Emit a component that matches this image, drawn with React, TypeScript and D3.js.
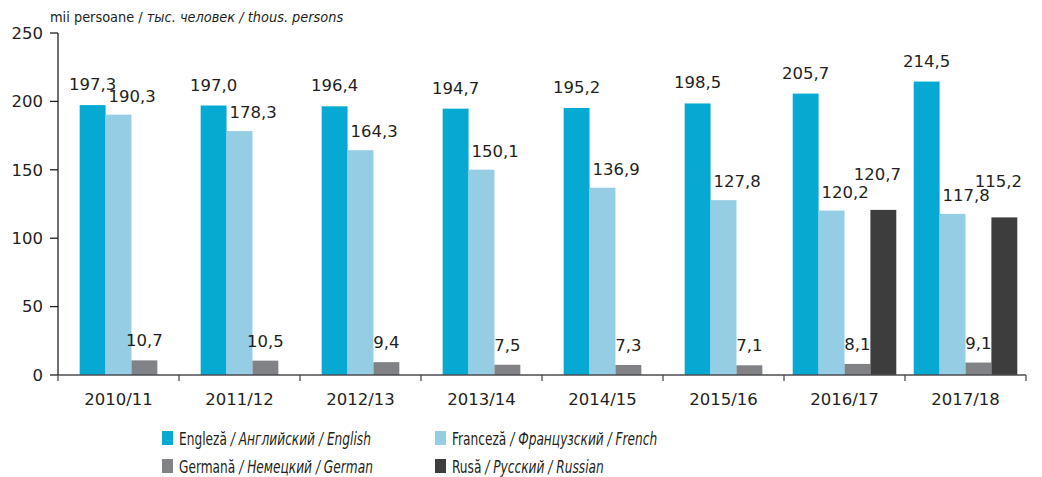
import React from 'react';
import * as d3 from 'd3';

const categories = ['2010/11', '2011/12', '2012/13', '2013/14', '2014/15', '2015/16', '2016/17', '2017/18'];
const english = [197.3, 197.0, 196.4, 194.7, 195.2, 198.5, 205.7, 214.5];
const french = [190.3, 178.3, 164.3, 150.1, 136.9, 127.8, 120.2, 117.8];
const german = [10.7, 10.5, 9.4, 7.5, 7.3, 7.1, 8.1, 9.1];
const russian: (number | null)[] = [null, null, null, null, null, null, 120.7, 115.2];
const yTicks = [0, 50, 100, 150, 200, 250];

const seriesNames = [
  { ro: 'Engleză', ru: 'Английский', en: 'English' },
  { ro: 'Franceză', ru: 'Французский', en: 'French' },
  { ro: 'Germană', ru: 'Немецкий', en: 'German' },
  { ro: 'Rusă', ru: 'Русский', en: 'Russian' },
];
const unitRo = 'mii persoane';
const unitRu = 'тыс. человек';
const unitEn = 'thous. persons';

const colors = ['#06A9D1', '#95CDE5', '#808285', '#3D3D3D'];
const textColor = '#231F20';
const numFont = 'DejaVu Sans';
const txtFont = '"DejaVu Sans Condensed", sans-serif';

const fmt = (v: number) => d3.format('.1f')(v).replace('.', ',');

export default function App() {
  const W = 1042, H = 477;
  const left = 58, right = 1026, top = 33, bottom = 375;
  const x = d3.scaleBand<string>().domain(categories).range([left, right]).padding(0);
  const y = d3.scaleLinear().domain([0, 250]).range([bottom, top]);
  const bw = x.bandwidth() * 0.214;
  const all = [english, french, german, russian];

  const bars: JSX.Element[] = [];
  const labels: JSX.Element[] = [];
  categories.forEach((c, i) => {
    const present = all.map((s, k) => ({ k, v: s[i] })).filter(d => d.v != null) as { k: number; v: number }[];
    const start = (x(c) as number) + (x.bandwidth() - present.length * bw) / 2;
    present.forEach((d, j) => {
      const bx = start + j * bw;
      const by = y(d.v);
      bars.push(<rect key={`b${i}-${d.k}`} x={bx} y={by} width={bw} height={bottom - by} fill={colors[d.k]} />);
      let lx = bx + bw / 2, ly = by - 15, anchor: 'middle' | 'start' = 'middle';
      if (d.k === 1) { lx = bx + 3; ly = by - 13; anchor = 'start'; }
      if (d.k === 2) { ly = by - 14; }
      if (d.k === 3) {
        const fv = french[i];
        if (Math.abs(fv - d.v) < 3) { lx = bx + bw / 2 - 6; ly = by - 30; anchor = 'middle'; }
        else { lx = bx; ly = by - 12; anchor = 'start'; }
      }
      labels.push(
        <text key={`l${i}-${d.k}`} x={lx} y={ly} textAnchor={anchor} fontFamily={numFont} fontSize={16.5} fill={textColor}>
          {fmt(d.v)}
        </text>
      );
    });
  });

  const boundaries = [...categories.map(c => x(c) as number), right];

  const legendPos = [
    { x: 162, y: 445 },
    { x: 435, y: 445 },
    { x: 162, y: 473 },
    { x: 435, y: 473 },
  ];

  return (
    <svg width={W} height={H} style={{ position: 'absolute', left: 0, top: 0, background: '#fff' }}>
      <text x={50} y={22} fontFamily={txtFont} fontSize={14.4} fill={textColor}>
        {unitRo} / <tspan fontStyle="italic">{unitRu} / {unitEn}</tspan>
      </text>
      {bars}
      {/* y axis */}
      <line x1={left} x2={left} y1={top} y2={bottom} stroke={textColor} strokeWidth={1.3} />
      {yTicks.map(t => (
        <g key={`yt${t}`}>
          <line x1={left - 8} x2={left} y1={y(t)} y2={y(t)} stroke={textColor} strokeWidth={1.3} />
          <text x={43} y={y(t)} dy="0.35em" textAnchor="end" fontFamily={numFont} fontSize={16.5} fill={textColor}>{t}</text>
        </g>
      ))}
      {/* x axis */}
      <line x1={left} x2={right} y1={bottom} y2={bottom} stroke="#4d4d4f" strokeWidth={1.5} />
      {boundaries.map((b, i) => (
        <line key={`xt${i}`} x1={b} x2={b} y1={bottom} y2={bottom + 6} stroke="#4d4d4f" strokeWidth={1.3} />
      ))}
      {categories.map(c => (
        <text key={`xl${c}`} x={(x(c) as number) + x.bandwidth() / 2} y={405} textAnchor="middle" fontFamily={numFont} fontSize={16.5} fill={textColor}>{c}</text>
      ))}
      {labels}
      {seriesNames.map((s, k) => (
        <g key={`lg${k}`}>
          <rect x={legendPos[k].x} y={legendPos[k].y - 14} width={11} height={14} fill={colors[k]} />
          <g transform={`translate(${legendPos[k].x + 17},${legendPos[k].y}) scale(0.775,1)`}>
            <text x={0} y={0} fontFamily={txtFont} fontSize={17.5} fill={textColor}>
              {s.ro} <tspan fontStyle="italic">/ {s.ru} / {s.en}</tspan>
            </text>
          </g>
        </g>
      ))}
    </svg>
  );
}
